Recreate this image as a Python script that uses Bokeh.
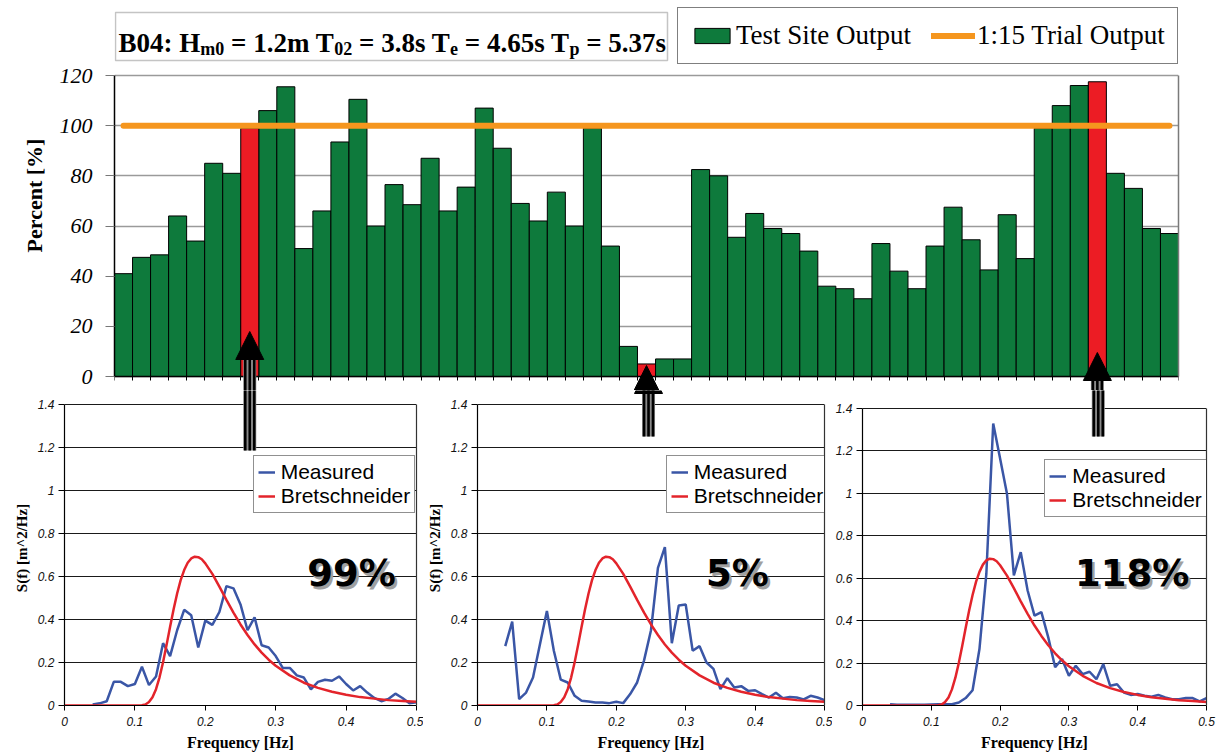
from bokeh.plotting import figure
from bokeh.layouts import column, row
from bokeh.models import (Range1d, FixedTicker, LinearAxis, Legend, LegendItem, Label,
                          BoxAnnotation, Arrow, NormalHead, CustomJSTickFormatter)
from bokeh.embed import file_html
from bokeh.resources import INLINE

# ---------------- data ----------------
bars = list(range(1, 60))
percent = [41, 47.5, 48.5, 64, 54, 85, 81, 99, 106, 115.5,
           51, 66, 93.5, 110.5, 60, 76.5, 68.5, 87, 66, 75.5,
           107, 91, 69, 62, 73.5, 60, 99, 52, 12, 5,
           7, 7, 82.5, 80, 55.5, 65, 59, 57, 50, 36,
           35, 31, 53, 42, 35, 52, 67.5, 54.5, 42.5, 64.5,
           47, 99, 108, 116, 117.5, 81, 75, 59, 57]
highlighted = [8, 30, 55]
trial_output = 100
percent_ticks = [0, 20, 40, 60, 80, 100, 120]

freq = [0.04, 0.05, 0.06, 0.07, 0.08, 0.09, 0.10, 0.11, 0.12, 0.13,
        0.14, 0.15, 0.16, 0.17, 0.18, 0.19, 0.20, 0.21, 0.22, 0.23,
        0.24, 0.25, 0.26, 0.27, 0.28, 0.29, 0.30, 0.31, 0.32, 0.33,
        0.34, 0.35, 0.36, 0.37, 0.38, 0.39, 0.40, 0.41, 0.42, 0.43,
        0.44, 0.45, 0.46, 0.47, 0.48, 0.49, 0.50]
measured_1 = [0.005, 0.01, 0.02, 0.11, 0.11, 0.09, 0.10, 0.18, 0.095, 0.135,
              0.29, 0.23, 0.35, 0.445, 0.42, 0.27, 0.395, 0.375, 0.435, 0.555,
              0.545, 0.47, 0.35, 0.41, 0.28, 0.27, 0.23, 0.175, 0.175, 0.14,
              0.13, 0.075, 0.11, 0.12, 0.115, 0.135, 0.10, 0.07, 0.09, 0.06,
              0.035, 0.02, 0.03, 0.055, 0.035, 0.01, 0.015]
measured_2 = [0.276, 0.39, 0.03, 0.06, 0.13, 0.285, 0.44, 0.255, 0.12, 0.107,
              0.045, 0.022, 0.019, 0.014, 0.014, 0.011, 0.017, 0.011, 0.053, 0.107,
              0.21, 0.35, 0.64, 0.737, 0.29, 0.465, 0.47, 0.255, 0.276, 0.2,
              0.17, 0.076, 0.127, 0.084, 0.09, 0.068, 0.071, 0.053, 0.037, 0.059,
              0.034, 0.04, 0.037, 0.028, 0.045, 0.037, 0.025]
measured_3 = [0.006, 0.003, 0.003, 0.003, 0.004, 0.004, 0.005, 0.006, 0.006, 0.006,
              0.014, 0.035, 0.072, 0.266, 0.62, 1.329, 1.164, 0.998, 0.613, 0.723,
              0.542, 0.424, 0.44, 0.321, 0.18, 0.219, 0.14, 0.187, 0.148, 0.159,
              0.124, 0.195, 0.093, 0.10, 0.061, 0.05, 0.054, 0.046, 0.041, 0.05,
              0.038, 0.03, 0.03, 0.035, 0.035, 0.019, 0.035]
bret_freq = [0.0, 0.10, 0.11, 0.115, 0.12, 0.125, 0.13, 0.135, 0.14, 0.145,
             0.15, 0.155, 0.16, 0.165, 0.17, 0.175, 0.18, 0.185, 0.19, 0.195,
             0.20, 0.21, 0.22, 0.23, 0.24, 0.25, 0.26, 0.27, 0.28, 0.29,
             0.30, 0.32, 0.34, 0.36, 0.38, 0.40, 0.42, 0.44, 0.46, 0.48, 0.50]
bret_spec = [0.0, 0.0001, 0.001, 0.005, 0.016, 0.038, 0.076, 0.131, 0.201, 0.282,
             0.366, 0.448, 0.521, 0.583, 0.630, 0.664, 0.684, 0.692, 0.690, 0.680,
             0.661, 0.612, 0.553, 0.491, 0.432, 0.377, 0.328, 0.284, 0.246, 0.213,
             0.185, 0.140, 0.106, 0.082, 0.064, 0.050, 0.039, 0.032, 0.025, 0.021, 0.017]
spec_ticks = [0, 0.2, 0.4, 0.6, 0.8, 1.0, 1.2, 1.4]
freq_ticks = [0, 0.1, 0.2, 0.3, 0.4, 0.5]

title_parts = ["B04: H", "m0", "= 1.2m T", "02", "= 3.8s T", "e", "= 4.65s T", "p", "= 5.37s"]
title_is_sub = [False, True, False, True, False, True, False, True, False]

# ---------------- styling / layout constants (page pixels) ----------------
GREEN, RED, ORANGE = "#0E7A3C", "#EC1C24", "#F5961E"
BLUE, BRED = "#3A56A6", "#E3242B"
SERIF, SANS = "Liberation Serif", "Liberation Sans"

TOTAL_W = 1216
TOP_H = 390           # top canvas: page y 0..390
BOT_H = 364           # bottom canvas: page y 390..754
TOP_FL, TOP_FR = 114, 1178
Y0_PX, Y120_PX = 376, 75
PL = [64, 473, 859]
PR = [416, 824, 1206]
PT = [404, 404, 408]
PB = 705
CANVAS_LEFT = [0, 423, 832]
CANVAS_W = [423, 409, 384]

def top_x(px):
    return 0.5 + (px - TOP_FL) / (TOP_FR - TOP_FL) * len(bars)

def top_y(py):
    return (Y0_PX - py) / (Y0_PX - Y120_PX) * 120

def pan_x(k, px):
    return (px - PL[k]) / (PR[k] - PL[k]) * 0.5

def pan_y(k, py):
    return (PB - py) / (PB - PT[k]) * 1.4

def bar_center_px(i):
    return TOP_FL + (i - 0.5) * (TOP_FR - TOP_FL) / len(bars)

ARROW_TIP = [331, 365, 352]
ARROW_END = [450, 436, 436]

def add_arrow(fig, xc, yc, px, tip, end):
    fig.add_layout(Arrow(end=None, x_start=xc(px), y_start=yc(end), x_end=xc(px), y_end=yc(tip + 20),
                         line_color="#8a8a8a", line_width=13))
    for dx in (-4.5, 0, 4.5):
        fig.add_layout(Arrow(end=None, x_start=xc(px + dx), y_start=yc(end), x_end=xc(px + dx),
                             y_end=yc(tip + 20), line_color="black", line_width=2.6))
    fig.add_layout(Arrow(end=NormalHead(size=28, fill_color="black", line_color="black", line_width=1),
                         x_start=xc(px), y_start=yc(tip + 28), x_end=xc(px), y_end=yc(tip),
                         line_alpha=0))

# ---------------- top bar chart ----------------
top = figure(width=TOTAL_W, height=TOP_H,
             x_range=Range1d(bars[0] - 0.5, bars[-1] + 0.5),
             y_range=Range1d(top_y(TOP_H), top_y(0)),
             output_backend="svg", toolbar_location=None, title=None,
             min_border_left=TOP_FL, min_border_right=TOTAL_W - TOP_FR,
             min_border_top=0, min_border_bottom=0,
             background_fill_color="white", border_fill_color="white", outline_line_color=None)

boundaries = [b - 0.5 for b in bars] + [bars[-1] + 0.5]
top.xaxis.fixed_location = 0
top.xaxis.ticker = FixedTicker(ticks=[], minor_ticks=boundaries)
top.xaxis.minor_tick_out = 4
top.xaxis.minor_tick_in = 0
top.xaxis.minor_tick_line_color = "black"
top.xaxis.axis_line_color = "black"
top.xaxis.axis_line_width = 1.5
top.xgrid.visible = False

top.yaxis.ticker = FixedTicker(ticks=percent_ticks)
top.yaxis.bounds = (0, 120)
top.yaxis.major_tick_out = 9
top.yaxis.major_tick_in = 0
top.yaxis.major_tick_line_color = "#777777"
top.yaxis.minor_tick_line_color = None
top.yaxis.axis_line_color = "black"
top.yaxis.axis_line_width = 1.5
top.yaxis.major_label_text_font = SERIF
top.yaxis.major_label_text_font_style = "italic"
top.yaxis.major_label_text_font_size = "22px"
top.yaxis.major_label_text_color = "black"
top.yaxis.major_label_standoff = 13
top.yaxis.axis_label = "Percent [%]"
top.yaxis.axis_label_text_font = SERIF
top.yaxis.axis_label_text_font_style = "bold"
top.yaxis.axis_label_text_font_size = "22px"
top.yaxis.axis_label_text_color = "black"
top.yaxis.axis_label_standoff = 10
top.ygrid.grid_line_color = "#9a9a9a"
top.ygrid.grid_line_width = 1.5

top.add_layout(LinearAxis(ticker=FixedTicker(ticks=[]), bounds=(0, 120),
                          axis_line_color="#7a7a7a", axis_line_width=1.5), "right")

green_x = [b for b in bars if b not in highlighted]
green_top = [v for b, v in zip(bars, percent) if b not in highlighted]
red_x = [b for b in bars if b in highlighted]
red_top = [v for b, v in zip(bars, percent) if b in highlighted]

g_r = top.vbar(x=green_x, top=green_top, width=1, bottom=0, fill_color=GREEN,
               line_color="black", line_width=1)
top.vbar(x=red_x, top=red_top, width=1, bottom=0, fill_color=RED, line_color="black", line_width=1)
o_r = top.line(x=bars, y=[trial_output] * len(bars), line_color=ORANGE, line_width=6, line_cap="round")

top.add_layout(Legend(items=[LegendItem(label="Test Site Output", renderers=[g_r]),
                             LegendItem(label="1:15 Trial Output", renderers=[o_r])],
                      location=(677 - TOP_FL, TOP_H - 64), orientation="horizontal",
                      padding=12, spacing=20, label_standoff=2, glyph_width=44, glyph_height=19,
                      label_text_font=SERIF, label_text_font_size="27px", label_text_color="black",
                      border_line_color="black", border_line_width=1.5,
                      background_fill_color="white", background_fill_alpha=1.0, margin=0))

top.add_layout(BoxAnnotation(left=top_x(115), right=top_x(667), top=top_y(12), bottom=top_y(60),
                             fill_color="white", fill_alpha=1.0, line_color="#3a3a3a", line_width=1.5))
TITLE_X = [118, 199.8, 230.5, 333.7, 358.5, 449.6, 464.3, 569.0, 585.7]
for txt, sub, tx in zip(title_parts, title_is_sub, TITLE_X):
    top.add_layout(Label(x=top_x(tx), y=top_y(48 if sub else 42), text=txt,
                         text_font=SERIF, text_font_style="bold",
                         text_font_size="18px" if sub else "27px", text_color="black",
                         text_align="left", text_baseline="alphabetic"))

for k, i in enumerate(highlighted):
    add_arrow(top, top_x, top_y, bar_center_px(i), ARROW_TIP[k], ARROW_END[k])

# ---------------- spectrum panels ----------------
fmt = CustomJSTickFormatter(code="return tick.toFixed(1).replace(/\\.0$/, '');")
measured = [measured_1, measured_2, measured_3]
LEG_POS = [(188.7, 191.7), (188.7, 191.7), (182.3, 188.3)]
LABEL_CX = [351, 736, 1131]

panels = []
for k in range(3):
    w = CANVAS_W[k]
    xc = (lambda kk: (lambda px: pan_x(kk, px)))(k)
    yc = (lambda kk: (lambda py: pan_y(kk, py)))(k)
    p = figure(width=w, height=BOT_H, x_range=Range1d(0, 0.5), y_range=Range1d(0, yc(TOP_H)),
               output_backend="svg", toolbar_location=None, title=None,
               min_border_left=PL[k] - CANVAS_LEFT[k],
               min_border_right=CANVAS_LEFT[k] + w - PR[k],
               min_border_top=0, min_border_bottom=TOP_H + BOT_H - PB,
               background_fill_color="white", border_fill_color="white",
               outline_line_color=None)
    p.xaxis.ticker = FixedTicker(ticks=freq_ticks)
    p.yaxis.ticker = FixedTicker(ticks=spec_ticks)
    p.yaxis.bounds = (0, 1.4)
    for ax in (p.xaxis, p.yaxis):
        ax.formatter = fmt
        ax.major_label_text_font = SANS
        ax.major_label_text_font_style = "italic"
        ax.major_label_text_font_size = "12px"
        ax.major_label_text_color = "#111111"
        ax.major_tick_in = 0
        ax.major_tick_line_color = "black"
        ax.minor_tick_line_color = None
        ax.axis_line_color = "black"
        ax.axis_line_width = 1.2
    p.xaxis.major_tick_out = 5
    p.yaxis.major_tick_out = 6
    p.xaxis.major_label_standoff = 6
    p.yaxis.major_label_standoff = 4
    p.xaxis.axis_label = "Frequency [Hz]"
    p.xaxis.axis_label_text_font = SERIF
    p.xaxis.axis_label_text_font_style = "bold"
    p.xaxis.axis_label_text_font_size = "16px"
    p.xaxis.axis_label_text_color = "black"
    p.xaxis.axis_label_standoff = 5
    if k < 2:
        p.yaxis.axis_label = "S(f) [m^2/Hz]"
        p.yaxis.axis_label_text_font = SERIF
        p.yaxis.axis_label_text_font_style = "bold"
        p.yaxis.axis_label_text_font_size = "15px"
        p.yaxis.axis_label_text_color = "black"
        p.yaxis.axis_label_standoff = 5
    p.xgrid.visible = False
    p.ygrid.grid_line_color = "#1a1a1a"
    p.ygrid.grid_line_width = 1.2
    p.add_layout(LinearAxis(ticker=FixedTicker(ticks=[]), bounds=(0, 1.4),
                            axis_line_color="#333333", axis_line_width=1.2), "right")

    b_r = p.line(x=freq, y=measured[k], line_color=BLUE, line_width=2.5)
    r_r = p.line(x=bret_freq, y=bret_spec, line_color=BRED, line_width=2.5)

    p.add_layout(Legend(items=[LegendItem(label="Measured", renderers=[b_r]),
                               LegendItem(label="Bretschneider", renderers=[r_r])],
                        location=LEG_POS[k], padding=4, spacing=0, label_standoff=6,
                        glyph_width=17, glyph_height=20,
                        label_text_font=SANS, label_text_font_size="21px", label_text_color="black",
                        border_line_color="#222222", border_line_width=1.5,
                        background_fill_color="white", background_fill_alpha=1.0, margin=0))

    i = highlighted[k]
    pct = f"{round(percent[bars.index(i)])}%"
    p.add_layout(Label(x=xc(LABEL_CX[k] + 2.5), y=yc(573 + 2.5), text=pct, text_font="DejaVu Sans",
                       text_font_style="bold", text_font_size="37px", text_color="#a0a0a0",
                       text_align="center", text_baseline="alphabetic"))
    p.add_layout(Label(x=xc(LABEL_CX[k]), y=yc(573), text=pct, text_font="DejaVu Sans",
                       text_font_style="bold", text_font_size="37px", text_color="black",
                       text_align="center", text_baseline="alphabetic"))

    add_arrow(p, xc, yc, bar_center_px(i), ARROW_TIP[k], ARROW_END[k])
    panels.append(p)

layout = column(top, row(*panels, spacing=0), spacing=0)
open("out.html", "w").write(file_html(layout, INLINE))
